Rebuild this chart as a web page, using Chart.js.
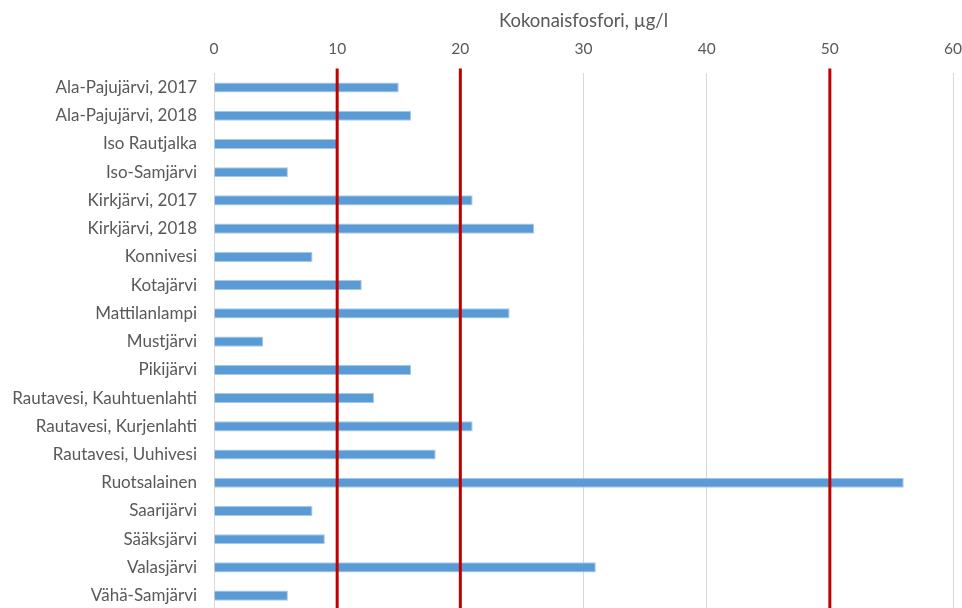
<!DOCTYPE html>
<html>
<head>
<meta charset="utf-8">
<script src="https://cdn.jsdelivr.net/npm/chart.js@4"></script>
<style>
  html, body { margin: 0; padding: 0; background: #fff; overflow: hidden; }
</style>
</head>
<body>
<canvas id="myChart" width="977" height="637"></canvas>
<script>
// lakes and total phosphorus values (µg/l)
const lakes = [
  "Ala-Pajujärvi, 2017",
  "Ala-Pajujärvi, 2018",
  "Iso Rautjalka",
  "Iso-Samjärvi",
  "Kirkjärvi, 2017",
  "Kirkjärvi, 2018",
  "Konnivesi",
  "Kotajärvi",
  "Mattilanlampi",
  "Mustjärvi",
  "Pikijärvi",
  "Rautavesi, Kauhtuenlahti",
  "Rautavesi, Kurjenlahti",
  "Rautavesi, Uuhivesi",
  "Ruotsalainen",
  "Saarijärvi",
  "Sääksjärvi",
  "Valasjärvi",
  "Vähä-Samjärvi"
];
const phosphorus = [15, 16, 10, 6, 21, 26, 8, 12, 24, 4, 16, 13, 21, 18, 56, 8, 9, 31, 6];
// red limit lines
const limits = [10, 20, 50];
const xTicks = [0, 10, 20, 30, 40, 50, 60];

const textColor = "#595959";
const fontFamily = "Lato, 'Open Sans', sans-serif";

/*
 draws the red vertical limit lines over the bars,
 starting a little above the plot area like in the original
*/
const limitLines = {
  id: "limitLines",
  afterDatasetsDraw(chart) {
    const ctx = chart.ctx;
    const x = chart.scales.x;
    const area = chart.chartArea;
    ctx.save();
    ctx.strokeStyle = "#c00000";
    ctx.lineWidth = 3;
    limits.forEach((v) => {
      const px = x.getPixelForValue(v);
      ctx.beginPath();
      ctx.moveTo(px, area.top - 5);
      ctx.lineTo(px, area.bottom);
      ctx.stroke();
    });
    ctx.restore();
  },
};

const ctx = document.getElementById("myChart").getContext("2d");
const chart = new Chart(ctx, {
  type: "bar",
  data: {
    labels: lakes,
    datasets: [
      {
        label: "Kokonaisfosfori",
        data: phosphorus,
        backgroundColor: "#5b9bd5",
        borderColor: "#a9c9ea",
        borderWidth: 1,
        categoryPercentage: 1,
        barPercentage: 0.36,
      },
    ],
  },
  options: {
    indexAxis: "y",
    responsive: false,
    animation: false,
    layout: {
      padding: { top: 9.6, right: 8, bottom: 0, left: 0 },
    },
    plugins: {
      legend: { display: false },
      tooltip: { enabled: false },
    },
    scales: {
      x: {
        position: "top",
        min: 0,
        max: 60,
        afterBuildTicks(scale) {
          scale.ticks = xTicks.map((v) => ({ value: v }));
        },
        grid: { color: "#d9d9d9", drawTicks: false },
        border: { display: false },
        ticks: {
          color: textColor,
          font: { family: fontFamily, size: 15.5 },
          padding: 15,
        },
        title: {
          display: true,
          text: "Kokonaisfosfori, µg/l",
          color: textColor,
          font: { family: fontFamily, size: 18.5 },
          padding: { top: 0, bottom: -7 },
        },
      },
      y: {
        grid: { display: false, drawTicks: false },
        border: { display: true, color: "#d9d9d9" },
        afterFit(scale) {
          scale.width = 214;
        },
        ticks: {
          color: textColor,
          font: { family: fontFamily, size: 17 },
          padding: 17,
          autoSkip: false,
        },
      },
    },
  },
  plugins: [limitLines],
});
</script>
</body>
</html>
